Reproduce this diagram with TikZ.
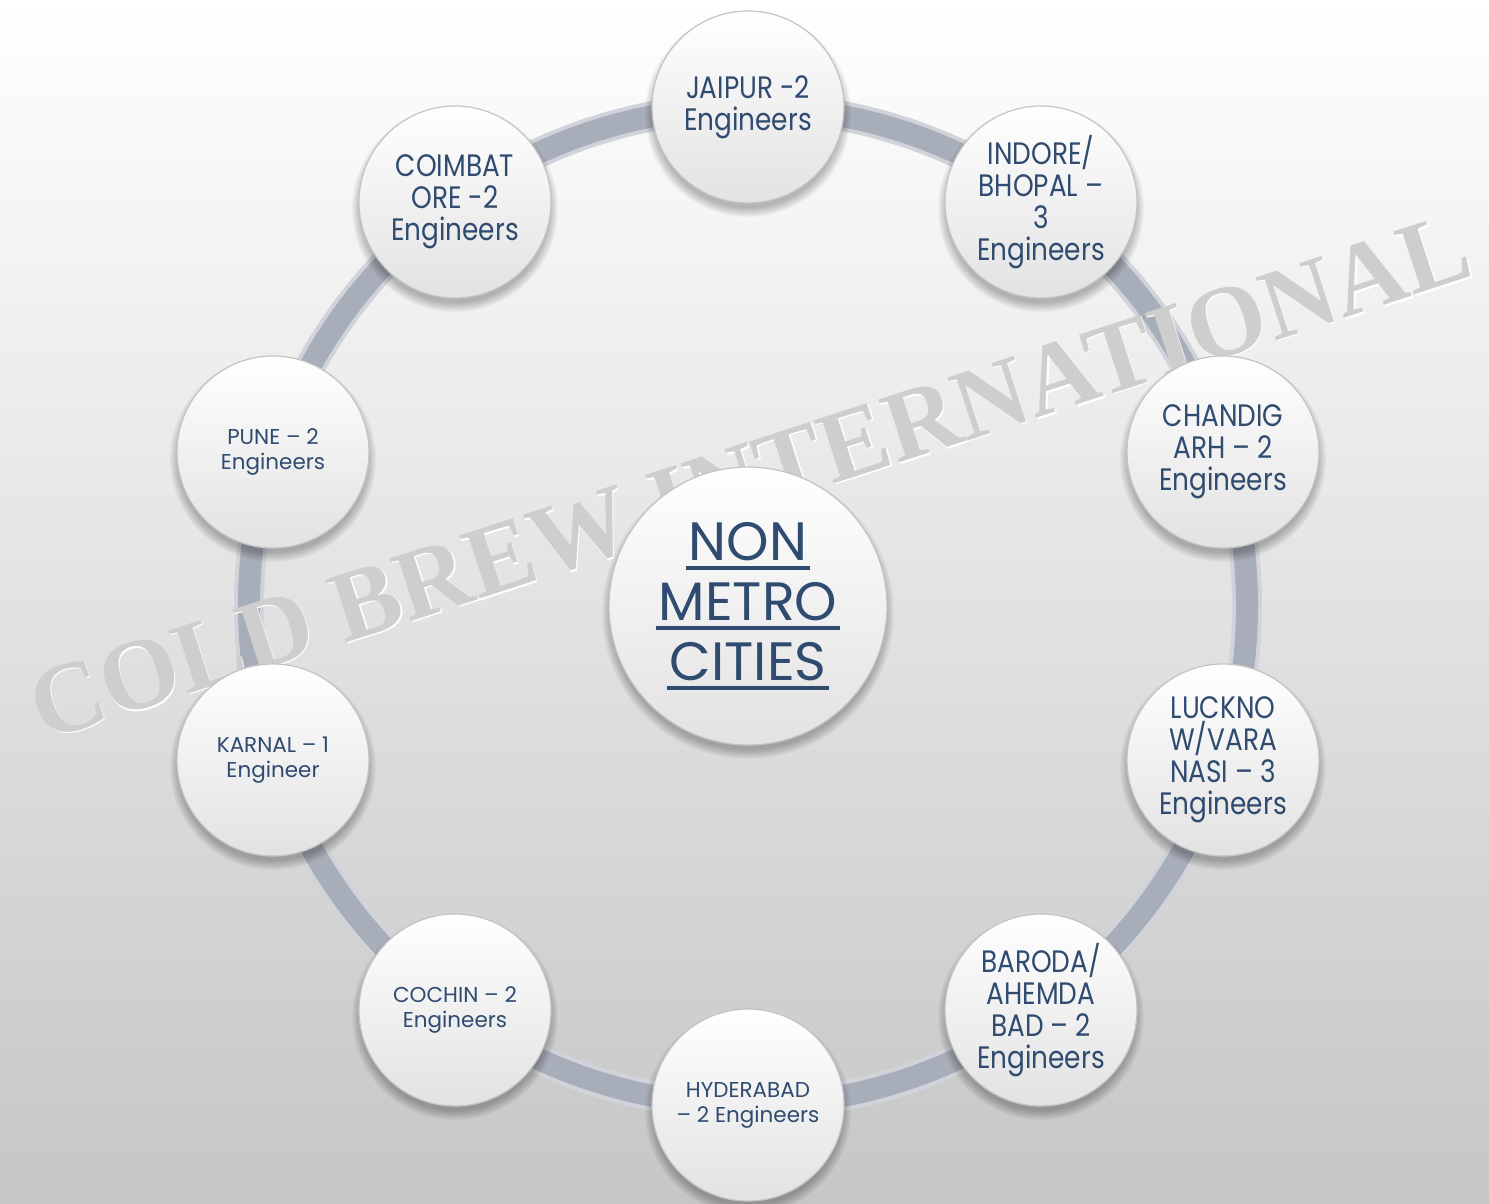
\documentclass[tikz,border=0pt]{standalone}
\usepackage{fontspec}
\newfontfamily\cf[FakeStretch=0.85]{Poppins}
\newfontfamily\cfw{Poppins}
\newfontfamily\wmf{Liberation Serif}
\definecolor{txt}{RGB}{47,75,112}
\definecolor{bgbot}{RGB}{198,198,198}
\definecolor{ringedge}{RGB}{208,212,218}
\definecolor{ringmid}{RGB}{168,174,185}
\definecolor{circbot}{RGB}{226,226,226}
\definecolor{circrim}{RGB}{196,196,196}
\definecolor{wmcol}{RGB}{206,206,206}
\newcommand\ulc[1]{\setbox0\hbox{#1}\rlap{\hspace*{-3pt}\rule[-9pt]{\dimexpr\wd0+6pt\relax}{3.5pt}}\box0}
\tikzset{
  sat/.style={circle, minimum size=192pt, inner sep=0pt, draw=circrim, line width=1.2pt,
    top color=white, bottom color=circbot, align=center, text=txt,
    font=\cf\fontsize{31}{32}\selectfont},
  satsmall/.style={sat, font=\cfw\fontsize{21.5}{25}\selectfont},
  hub/.style={sat, minimum size=278pt, font=\cfw\fontsize{54}{60}\selectfont},
  ringline/.style={line width=30pt, draw=ringedge},
  ringcore/.style={line width=22pt, draw=ringmid},
  wmark/.style={font=\wmf\bfseries\fontsize{101}{101}\selectfont, inner sep=0pt}
}
\begin{document}
\begin{tikzpicture}[x=1pt,y=-1pt]
\useasboundingbox (0,0) rectangle (1489,1203);
\shade[top color=white, bottom color=bgbot] (0,0) rectangle (1489,1203);
\coordinate (c) at (748,606);
\draw[ringline] (c) circle (499);
\draw[ringcore] (c) circle (499);
\node[wmark, rotate=18, text=white] (wmhi) at (751.5,478.5) {COLD BREW INTERNATIONAL};
\node[wmark, rotate=18, text=wmcol] (wm) at (750,477) {COLD BREW INTERNATIONAL};
% shadows
\foreach \x/\y/\r in {748/606/139, 748/107/96, 1041/202/96, 1223/452/96, 1223/760/96, 1041/1010/96, 748/1105/96, 455/1010/96, 273/760/96, 273/452/96, 455/202/96}{
  \foreach \k in {0,...,7}{
    \fill[black, opacity=0.035] (\x,\y+7) circle (\r+7-\k*1.3);
  }
}
\node[hub] (hub) at (c) {\ulc{NON}\\\ulc{METRO}\\\ulc{CITIES}};
\node[sat] (jaipur) at (748,107) {JAIPUR -2\\Engineers};
\node[sat] (indore) at (1041,202) {INDORE/\\BHOPAL –\\3\\Engineers};
\node[sat] (chandigarh) at (1223,452) {CHANDIG\\ARH – 2\\Engineers};
\node[sat] (lucknow) at (1223,760) {LUCKNO\\W/VARA\\NASI – 3\\Engineers};
\node[sat] (baroda) at (1041,1010) {BARODA/\\AHEMDA\\BAD – 2\\Engineers};
\node[satsmall] (hyderabad) at (748,1105) {HYDERABAD\\– 2 Engineers};
\node[satsmall] (cochin) at (455,1010) {COCHIN – 2\\Engineers};
\node[satsmall] (karnal) at (273,760) {KARNAL – 1\\Engineer};
\node[satsmall] (pune) at (273,452) {PUNE – 2\\Engineers};
\node[sat] (coimbatore) at (455,202) {COIMBAT\\ORE -2\\Engineers};
\end{tikzpicture}
\end{document}
